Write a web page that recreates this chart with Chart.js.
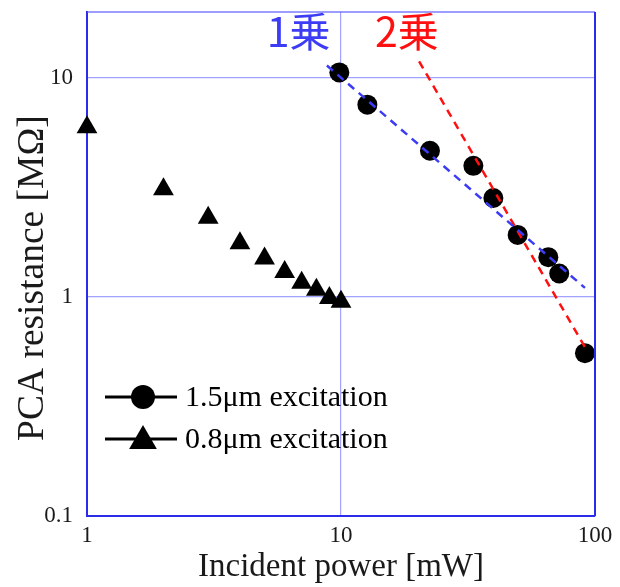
<!DOCTYPE html>
<html>
<head>
<meta charset="utf-8">
<script src="https://cdn.jsdelivr.net/npm/chart.js@4.4.1/dist/chart.umd.min.js"></script>
<style>
  html, body { margin: 0; padding: 0; background: #fff; }
</style>
</head>
<body>
<canvas id="chart" width="620" height="587"></canvas>
<script>
// 1.5um excitation (circles)
const powerIR = [9.85, 12.7, 22.4, 33.2, 39.8, 49.6, 65.5, 72.3, 91.3];
const resistIR = [10.6, 7.55, 4.65, 3.97, 2.83, 1.92, 1.52, 1.28, 0.554];
// 0.8um excitation (triangles)
const powerNIR = [1, 2, 3, 4, 5, 6, 7, 8, 9, 10];
const resistNIR = [5.95, 3.1, 2.3, 1.76, 1.5, 1.3, 1.16, 1.08, 0.99, 0.95];
// guide lines (slope -1 and slope -2)
const linearFitX = [8.8, 91.3];
const linearFitY = [11.4, 1.10];
const squareFitX = [20.3, 91.3];
const squareFitY = [11.9, 0.59];

const xTicks = [1, 10, 100];
const yTicks = [0.1, 1, 10];

const serif = "'Liberation Serif', 'Times New Roman', serif";
const frameBlue = '#2b2bea';
const gridBlue = 'rgba(70, 70, 255, 0.5)';

const toPoints = (xs, ys) => xs.map((x, i) => ({ x: x, y: ys[i] }));

// frame, fit labels and legend drawn on top
const overlayPlugin = {
    id: 'overlay',
    afterDraw(chart) {
        const { ctx, chartArea: a, scales } = chart;
        ctx.save();

        // top and right frame
        ctx.strokeStyle = 'rgba(80, 80, 255, 0.75)';
        ctx.lineWidth = 1.5;
        ctx.beginPath();
        ctx.moveTo(a.left, a.top);
        ctx.lineTo(a.right, a.top);
        ctx.stroke();
        ctx.strokeStyle = frameBlue;
        ctx.lineWidth = 2;
        ctx.beginPath();
        ctx.moveTo(a.right, a.top);
        ctx.lineTo(a.right, a.bottom);
        ctx.stroke();

        // fit labels
        ctx.font = "41px 'Noto Sans CJK JP', sans-serif";
        ctx.textBaseline = 'alphabetic';
        ctx.textAlign = 'left';
        ctx.fillStyle = '#3c3cf5';
        ctx.fillText('1乗', scales.x.getPixelForValue(5.1), scales.y.getPixelForValue(13.8));
        ctx.fillStyle = '#ff1010';
        ctx.fillText('2乗', scales.x.getPixelForValue(13.6), scales.y.getPixelForValue(13.8));

        // legend
        const items = chart.data.datasets.filter(d => d.label);
        let y = 397;
        items.forEach(d => {
            ctx.strokeStyle = '#000';
            ctx.lineWidth = 3;
            ctx.beginPath();
            ctx.moveTo(105, y);
            ctx.lineTo(177, y);
            ctx.stroke();
            ctx.fillStyle = '#000';
            Chart.helpers.drawPoint(ctx, {
                pointStyle: d.pointStyle,
                radius: d.pointStyle === 'triangle' ? 16 : 12,
                rotation: 0,
                borderWidth: 0
            }, 143, d.pointStyle === 'triangle' ? y + 2 : y);
            ctx.font = '30px ' + serif;
            ctx.textAlign = 'left';
            ctx.textBaseline = 'middle';
            ctx.fillText(d.label, 185, y + 1);
            y += 42;
        });
        ctx.restore();
    }
};

new Chart(document.getElementById('chart'), {
    type: 'scatter',
    data: {
        datasets: [
            {
                data: toPoints(linearFitX, linearFitY),
                showLine: true,
                borderColor: '#3c3cf5',
                borderWidth: 2.5,
                borderDash: [8, 6],
                pointRadius: 0,
                order: 0
            },
            {
                data: toPoints(squareFitX, squareFitY),
                showLine: true,
                borderColor: '#ff1010',
                borderWidth: 2.5,
                borderDash: [8, 6],
                pointRadius: 0,
                order: 0
            },
            {
                label: '1.5μm excitation',
                data: toPoints(powerIR, resistIR),
                pointStyle: 'circle',
                pointRadius: 10,
                pointBackgroundColor: '#000',
                pointBorderWidth: 0,
                clip: false,
                order: 1
            },
            {
                label: '0.8μm excitation',
                data: toPoints(powerNIR, resistNIR),
                pointStyle: 'triangle',
                pointRadius: 12,
                pointBackgroundColor: '#000',
                pointBorderWidth: 0,
                clip: false,
                order: 1
            }
        ]
    },
    options: {
        responsive: false,
        animation: false,
        events: [],
        layout: { padding: { top: 8, right: 25, left: 0, bottom: 0 } },
        plugins: {
            legend: { display: false },
            tooltip: { enabled: false }
        },
        scales: {
            x: {
                type: 'logarithmic',
                min: 1,
                max: 100,
                afterBuildTicks: s => { s.ticks = xTicks.map(v => ({ value: v })); },
                afterFit: s => { s.height = 71; s.paddingLeft = 0; s.paddingRight = 0; },
                ticks: {
                    callback: v => String(v),
                    font: { family: serif, size: 23 },
                    color: '#1a1a1a',
                    padding: 6,
                    maxRotation: 0
                },
                grid: { color: gridBlue, lineWidth: 1.2, drawTicks: false },
                border: { color: frameBlue, width: 2 },
                title: {
                    display: true,
                    text: 'Incident power [mW]',
                    font: { family: serif, size: 33 },
                    color: '#1a1a1a',
                    padding: { top: 0, bottom: 0 }
                }
            },
            y: {
                type: 'logarithmic',
                min: 0.1,
                max: 20,
                afterBuildTicks: s => { s.ticks = yTicks.map(v => ({ value: v })); },
                afterFit: s => { s.width = 87; s.paddingTop = 0; s.paddingBottom = 0; },
                ticks: {
                    callback: v => String(v),
                    font: { family: serif, size: 23 },
                    color: '#1a1a1a',
                    padding: 14
                },
                grid: { color: gridBlue, lineWidth: 1.2, drawTicks: false },
                border: { color: frameBlue, width: 2 },
                title: {
                    display: true,
                    text: 'PCA resistance [MΩ]\u00a0\u00a0\u00a0',
                    font: { family: serif, size: 37.5 },
                    color: '#1a1a1a',
                    padding: { top: 11, bottom: 0 }
                }
            }
        }
    },
    plugins: [overlayPlugin]
});
</script>
</body>
</html>
